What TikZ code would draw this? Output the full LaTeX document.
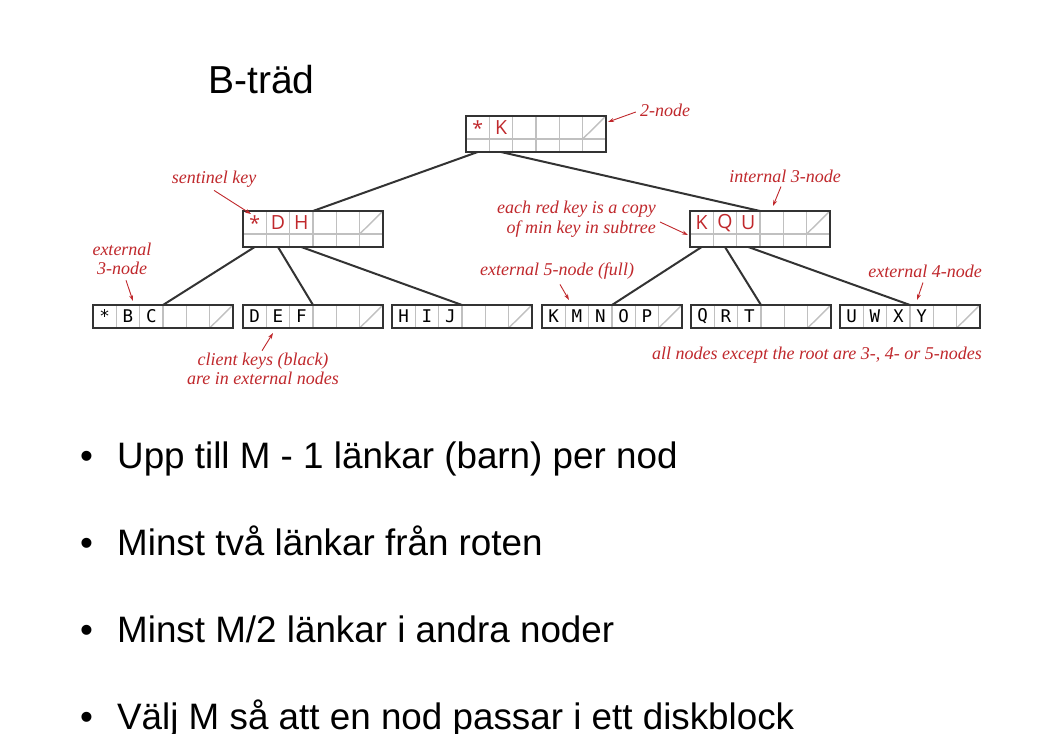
\documentclass[tikz,border=0pt]{standalone}
\usepackage{fontspec}
\setmainfont{Liberation Sans}
\newfontfamily\notefont{Liberation Serif}
\newfontfamily\keyfont{Open Sans}
\newfontfamily\leaffont{DejaVu Sans Mono}
\usetikzlibrary{calc,arrows.meta}

\definecolor{keyred}{RGB}{192,40,44}
\definecolor{framegray}{RGB}{51,51,51}
\definecolor{cellgray}{RGB}{192,192,192}

\def\cw{23.333}

\tikzset{
  pagebox/.style={draw=none, inner sep=0pt, outer sep=0pt, minimum width=140pt},
  pageborder/.style={draw=framegray, line width=1.7pt},
  cellline/.style={draw=cellgray, line width=1.4pt},
  innerkey/.style={inner sep=0pt, text=keyred, font=\keyfont\fontsize{19.5}{20}\selectfont},
  leafkey/.style={inner sep=0pt, text=black, font=\leaffont\fontsize{17.5}{18}\selectfont},
  treeedge/.style={draw=framegray, line width=2pt},
  note/.style={inner sep=0pt, text=keyred, font=\notefont\itshape\fontsize{18}{19.5}\selectfont},
  notearrow/.style={draw=keyred, line width=0.9pt, -{Stealth[length=6pt,width=4pt]}},
  heading/.style={inner sep=0pt, anchor=base west, font=\fontsize{39}{44}\selectfont},
  itemtext/.style={inner sep=0pt, anchor=base west, font=\fontsize{36.8}{40}\selectfont},
}

% internal page: two rows, red keys
\newcommand\innerpage[4]{%
  \node[pagebox, minimum height=36pt, anchor=north west] (#1) at (#2,#3) {};
  \foreach \i in {1,...,5}
    \draw[cellline] ($(#1.north west)+(\i*\cw,0)$) -- ($(#1.south west)+(\i*\cw,0)$);
  \draw[cellline] ($(#1.north west)+(0,23)$) -- ($(#1.north east)+(0,23)$);
  \draw[cellline] ($(#1.north west)+(5*\cw,23)$) -- ($(#1.north west)+(6*\cw,0)$);
  \foreach \k [count=\j] in {#4}
    \node[innerkey] at ($(#1.north west)+(\j*\cw-0.5*\cw,12)$) {\k};
  \draw[pageborder] (#1.north west) rectangle (#1.south east);
}

% external page: one row, black keys
\newcommand\leafpage[4]{%
  \node[pagebox, minimum height=23pt, anchor=north west] (#1) at (#2,#3) {};
  \foreach \i in {1,...,5}
    \draw[cellline] ($(#1.north west)+(\i*\cw,0)$) -- ($(#1.south west)+(\i*\cw,0)$);
  \draw[cellline] ($(#1.south west)+(5*\cw,0)$) -- ($(#1.north west)+(6*\cw,0)$);
  \foreach \k [count=\j] in {#4}
    \node[leafkey] at ($(#1.north west)+(\j*\cw-0.5*\cw,11.5)$) {\k};
  \draw[pageborder] (#1.north west) rectangle (#1.south east);
}

\begin{document}
\begin{tikzpicture}[x=1pt,y=-1pt]
\useasboundingbox[fill=white] (0,0) rectangle (1053,734);

% title
\node[heading] (title) at (208,93) {B-träd};

% tree edges from the root (drawn first, pages on top)
\coordinate (rootnw) at (466,116);
\coordinate (dhnw) at (243,211);
\coordinate (kqunw) at (690,211);
\draw[treeedge] ($(rootnw)+(0.5*\cw,36)$) -- ($(dhnw)+(3*\cw,0)$);
\draw[treeedge] ($(rootnw)+(1.5*\cw,36)$) -- ($(kqunw)+(3*\cw,0)$);

% pages
\innerpage{root}{466}{116}{*,K}
\innerpage{dh}{243}{211}{*,D,H}
\innerpage{kqu}{690}{211}{K,Q,U}
\leafpage{la}{93}{305}{*,B,C}
\leafpage{lb}{243}{305}{D,E,F}
\leafpage{lc}{392}{305}{H,I,J}
\leafpage{ld}{542}{305}{K,M,N,O,P}
\leafpage{le}{691}{305}{Q,R,T}
\leafpage{lf}{840}{305}{U,W,X,Y}

% links from internal pages to external pages
\draw[treeedge] ($(dh.south west)+(0.5*\cw,0)$) -- ($(la.north west)+(3*\cw,0)$);
\draw[treeedge] ($(dh.south west)+(1.5*\cw,0)$) -- ($(lb.north west)+(3*\cw,0)$);
\draw[treeedge] ($(dh.south west)+(2.5*\cw,0)$) -- ($(lc.north west)+(3*\cw,0)$);
\draw[treeedge] ($(kqu.south west)+(0.5*\cw,0)$) -- ($(ld.north west)+(3*\cw,0)$);
\draw[treeedge] ($(kqu.south west)+(1.5*\cw,0)$) -- ($(le.north west)+(3*\cw,0)$);
\draw[treeedge] ($(kqu.south west)+(2.5*\cw,0)$) -- ($(lf.north west)+(3*\cw,0)$);
\draw[pageborder] (dh.north west) rectangle (dh.south east);
\draw[pageborder] (kqu.north west) rectangle (kqu.south east);
\draw[pageborder] (root.north west) rectangle (root.south east);

% annotations
\node[note] (n2) at (665,110) {2-node};
\draw[notearrow] ($(n2.west)+(-4,2)$) -- ($(root.north east)+(2,6)$);

\node[note] (nsent) at (214,179) {sentinel key};
\draw[notearrow] ($(nsent.south)+(0,3)$) -- ($(dh.north west)+(8,3)$);

\node[note] (nint) at (785,176) {internal 3-node};
\draw[notearrow] ($(nint.south)+(-4,4)$) -- ($(kqu.north west)+(83,-5)$);

\node[note, align=right, anchor=east] (ncopy) at (656,219) {each red key is a copy\\of min key in subtree};
\draw[notearrow] ($(ncopy.east)+(4,3)$) -- ($(kqu.west)+(-2,6)$);

\node[note, align=center] (next3) at (122,259) {external\\3-node};
\draw[notearrow] ($(next3.south)+(4,5)$) -- ($(la.north west)+(40,-4)$);

\node[note] (next5) at (557,271) {external 5-node (full)};
\draw[notearrow] ($(next5.south)+(3,5)$) -- ($(ld.north west)+(27,-5)$);

\node[note] (next4) at (925,271) {external 4-node};
\draw[notearrow] ($(next4.south)+(-2,5)$) -- ($(lf.north west)+(77,-5)$);

\node[note, align=center] (nclient) at (263,369) {client keys (black)\\are in external nodes};
\draw[notearrow] ($(nclient.north)+(-1,-2)$) -- ($(lb.south west)+(30,5)$);

\node[note] (nall) at (817,355) {all nodes except the root are 3-, 4- or 5-nodes};

% bullet list
\node[itemtext] (b1) at (80,468) {•};
\node[itemtext] (t1) at (117,468) {Upp till M - 1 länkar (barn) per nod};
\node[itemtext] (b2) at (80,555) {•};
\node[itemtext] (t2) at (117,555) {Minst två länkar från roten};
\node[itemtext] (b3) at (80,642) {•};
\node[itemtext] (t3) at (117,642) {Minst M/2 länkar i andra noder};
\node[itemtext] (b4) at (80,729) {•};
\node[itemtext] (t4) at (117,729) {Välj M så att en nod passar i ett diskblock};
\end{tikzpicture}
\end{document}
